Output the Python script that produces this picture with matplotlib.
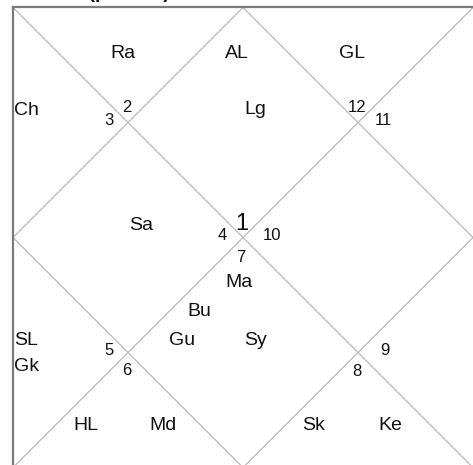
import matplotlib
matplotlib.use("Agg")
import matplotlib.pyplot as plt

# houses 1..12 and the sign in each one
houses = [1, 2, 3, 4, 5, 6, 7, 8, 9, 10, 11, 12]
signs = [1, 2, 3, 4, 5, 6, 7, 8, 9, 10, 11, 12]

# planets / points and the house they sit in
planets = ['AL', 'Lg', 'Ra', 'Ch', 'Sa', 'SL', 'Gk', 'HL', 'Md',
           'Ma', 'Bu', 'Gu', 'Sy', 'Sk', 'Ke', 'GL']
planet_house = [1, 1, 2, 3, 4, 5, 5, 6, 6, 7, 7, 7, 7, 8, 8, 12]

# layout: where the sign number of each house goes (x, y baseline) in chart units
sign_pos = {1: (0.498, 0.484), 2: (0.248, 0.227), 3: (0.209, 0.255),
            4: (0.454, 0.505), 5: (0.208, 0.755), 6: (0.248, 0.799),
            7: (0.496, 0.553), 8: (0.748, 0.801), 9: (0.809, 0.755),
            10: (0.562, 0.505), 11: (0.805, 0.255), 12: (0.747, 0.227)}

# layout: label spots (x, y baseline, align)
label_pos = {'AL': (0.487, 0.110, 'center'), 'Lg': (0.527, 0.2315, 'center'),
             'Ra': (0.240, 0.110, 'center'), 'Ch': (0.003, 0.2337, 'left'),
             'Sa': (0.279, 0.4837, 'center'), 'SL': (0.003, 0.7337, 'left'),
             'Gk': (0.003, 0.7913, 'left'), 'HL': (0.159, 0.9185, 'center'),
             'Md': (0.325, 0.9185, 'center'), 'Ma': (0.492, 0.6076, 'center'),
             'Bu': (0.405, 0.6707, 'center'), 'Gu': (0.368, 0.7337, 'center'),
             'Sy': (0.528, 0.7337, 'center'), 'Sk': (0.653, 0.9185, 'center'),
             'Ke': (0.820, 0.9185, 'center'), 'GL': (0.738, 0.110, 'center')}

plt.rcParams['font.family'] = ['Liberation Sans', 'DejaVu Sans']

W, H = 473, 465
fig = plt.figure(figsize=(W / 100, H / 100), dpi=100)
fig.patch.set_facecolor('white')

# chart square: left 13px, top 7.5px, side 460px
x0, top, side = 13, 7.5, 460
ax = fig.add_axes([x0 / W, (H - top - side) / H, side / W, side / H])
ax.set_xlim(0, 1)
ax.set_ylim(1, 0)
ax.axis('off')

line_col = '#b4b4b4'
ax.plot([0, 1], [0, 1], color=line_col, lw=0.8, clip_on=False)
ax.plot([1, 0], [0, 1], color=line_col, lw=0.8, clip_on=False)
ax.plot([0.5, 1, 0.5, 0, 0.5], [0, 0.5, 1, 0.5, 0], color=line_col, lw=0.8,
        clip_on=False)

# outer border (top and left visible)
ax.plot([0, 1], [0, 0], color='#7a7a7a', lw=1.6, clip_on=False)
ax.plot([0, 0], [0, 1], color='#7a7a7a', lw=1.6, clip_on=False)

for h, s in zip(houses, signs):
    x, y = sign_pos[h]
    ax.text(x, y, str(s), fontsize=17 if h == 1 else 12, color='#111111',
            ha='center', va='baseline')

for p, h in zip(planets, planet_house):
    x, y, al = label_pos[p]
    ax.text(x, y, p, fontsize=14, color='#111111', ha=al, va='baseline')

# title sits above the visible area, only its descenders peek in
fig.text(42 / W, 1 + 2.5 / H, 'Rasi (planets)', fontsize=14,
         fontweight='bold', color='#111111', ha='left', va='baseline')

fig.savefig('out.png', dpi=100, facecolor='white')
